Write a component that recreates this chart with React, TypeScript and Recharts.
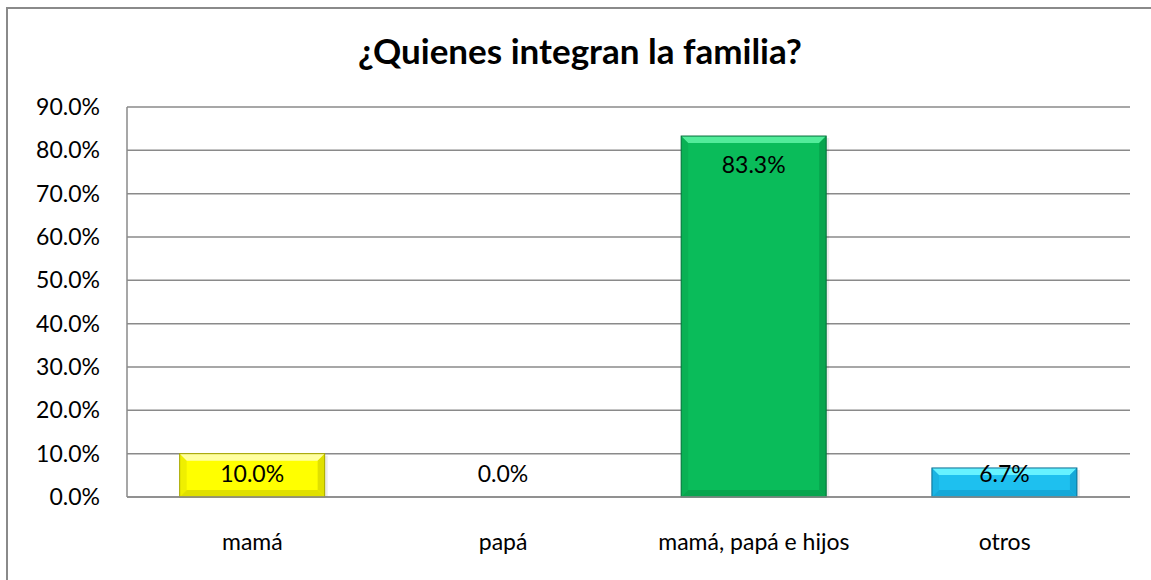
import React from "react";
import { BarChart, Bar, XAxis, YAxis, CartesianGrid, LabelList } from "recharts";

const categories = ["mamá", "papá", "mamá, papá e hijos", "otros"];
const values = [0.1, 0.0, 0.833, 0.067];
const yTicks = [0, 0.1, 0.2, 0.3, 0.4, 0.5, 0.6, 0.7, 0.8, 0.9];
const barColors = ["#FFFF00", "#FFFF00", "#0ABC5A", "#1EC0EF"];
const barLight = ["#FFFFA0", "#FFFFA0", "#52EC9A", "#66F2FF"];
const barDark = ["#E0E000", "#E0E000", "#08A54E", "#15A8D8"];
const barEdge = ["#A6A600", "#A6A600", "#05703A", "#0B6F93"];

const data = categories.map((c, i) => ({ name: c, value: values[i] }));

const FONT = "Lato, 'Open Sans', sans-serif";
const fmt = (v: number) => (v * 100).toFixed(1) + "%";

const BevelBar = (props: any) => {
  const { x, y, width, height, index } = props;
  if (!height || height <= 0) return null;
  const b = Math.min(7, height / 2);
  const c = barColors[index];
  const l = barLight[index];
  const d = barDark[index];
  const e = barEdge[index];
  return (
    <g>
      <rect x={x + 3} y={y + 2} width={width} height={height - 2} fill="#000" opacity={0.08} />
      <rect x={x} y={y} width={width} height={height} fill={c} />
      <polygon points={`${x},${y} ${x + width},${y} ${x + width - b},${y + b} ${x + b},${y + b}`} fill={l} />
      <polygon points={`${x},${y} ${x + b},${y + b} ${x + b},${y + height - b} ${x},${y + height}`} fill={d} opacity={0.5} />
      <polygon points={`${x + width},${y} ${x + width - b},${y + b} ${x + width - b},${y + height - b} ${x + width},${y + height}`} fill={d} />
      <polygon points={`${x},${y + height} ${x + b},${y + height - b} ${x + width - b},${y + height - b} ${x + width},${y + height}`} fill={d} />
      <rect x={x} y={y} width={width} height={height} fill="none" stroke={e} strokeWidth={1} />
    </g>
  );
};

const ValueLabel = (props: any) => {
  const { x, y, width, value, height } = props;
  const base = y + height;
  const cy = Math.min(y + 28, base - 24);
  return (
    <text
      x={x + width / 2}
      y={cy}
      textAnchor="middle"
      dominantBaseline="central"
      fontFamily={FONT}
      fontSize={23}
      fill="#000"
    >
      {fmt(value)}
    </text>
  );
};

export default function App() {
  return (
    <div style={{ position: "absolute", left: 0, top: 0, width: 1151, height: 580, overflow: "hidden", background: "#fff" }}>
      <div
        style={{
          position: "absolute",
          left: 6,
          top: 7,
          width: 1200,
          height: 640,
          border: "2px solid #8a8a8a",
          boxSizing: "border-box",
        }}
      />
      <div
        style={{
          position: "absolute",
          left: 0,
          top: 30,
          width: 1160,
          textAlign: "center",
          fontFamily: FONT,
          fontWeight: 700,
          fontSize: 35,
          color: "#000",
          lineHeight: "40px",
        }}
      >
        ¿Quienes integran la familia?
      </div>
      <div style={{ position: "absolute", left: 0, top: 0 }}>
        <BarChart
          width={1151}
          height={580}
          data={data}
          margin={{ top: 107, right: 21, left: 67, bottom: 23 }}
          barCategoryGap="21%"
        >
          <CartesianGrid vertical={false} stroke="#8a8a8a" strokeWidth={1.5} />
          <XAxis
            dataKey="name"
            height={60}
            tickLine={false}
            axisLine={{ stroke: "#8a8a8a", strokeWidth: 1.5 }}
            tickMargin={31}
            tick={{ fontFamily: FONT, fontSize: 23, fill: "#000" }}
            interval={0}
          />
          <YAxis
            width={60}
            domain={[0, 0.9]}
            ticks={yTicks}
            tickFormatter={fmt}
            tickLine={false}
            axisLine={{ stroke: "#8a8a8a", strokeWidth: 1.5 }}
            tickMargin={21}
            tick={{ fontFamily: FONT, fontSize: 23, fill: "#000" }}
            interval={0}
          />
          <Bar dataKey="value" isAnimationActive={false} shape={<BevelBar />}>
            <LabelList dataKey="value" content={<ValueLabel />} />
          </Bar>
        </BarChart>
      </div>
    </div>
  );
}
